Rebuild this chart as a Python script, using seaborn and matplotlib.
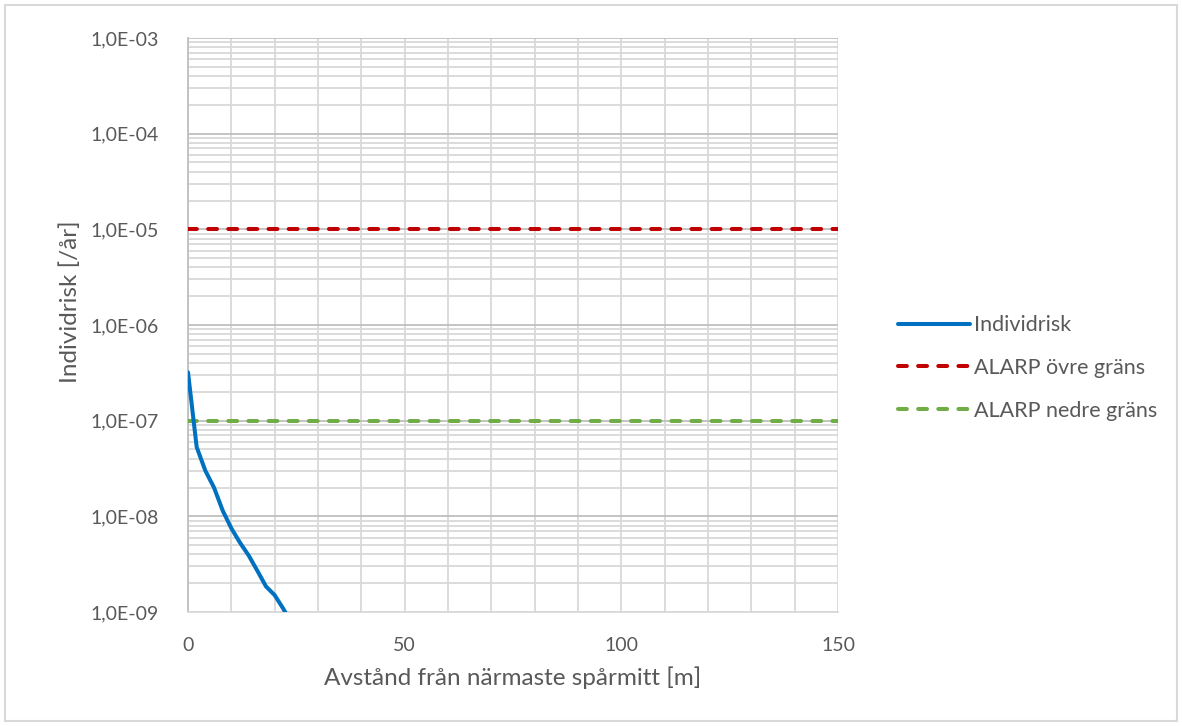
import matplotlib
matplotlib.use("Agg")
import matplotlib.pyplot as plt
import matplotlib.ticker as mticker
from matplotlib.patches import Rectangle
import numpy as np
import pandas as pd
import seaborn as sns

# Individual risk versus distance from the nearest track centre
distance_m = [0, 2, 4, 6, 8, 10, 12, 14, 16, 18, 20, 22, 24]
individrisk = [3.2e-7, 5.3e-8, 3.0e-8, 2.0e-8, 1.15e-8, 7.5e-9, 5.3e-9,
               3.9e-9, 2.7e-9, 1.85e-9, 1.5e-9, 1.08e-9, 7.5e-10]

# ALARP limits, drawn across the full distance range
alarp_x = [0, 150]
alarp_upper = [1e-5, 1e-5]
alarp_lower = [1e-7, 1e-7]

y_ticks = [1e-9, 1e-8, 1e-7, 1e-6, 1e-5, 1e-4, 1e-3]
x_ticks = [0, 50, 100, 150]

sns.set_theme(style="white")
plt.rcParams["font.family"] = ["Lato", "DejaVu Sans"]

text_col = "#595959"
fig = plt.figure(figsize=(11.82, 7.26), dpi=100)
ax = fig.add_axes([188 / 1182, 1 - 612 / 726, 650 / 1182, 574 / 726])

df_risk = pd.DataFrame({"x": distance_m, "y": individrisk})
df_up = pd.DataFrame({"x": alarp_x, "y": alarp_upper})
df_lo = pd.DataFrame({"x": alarp_x, "y": alarp_lower})

lw = 2.9
sns.lineplot(data=df_risk, x="x", y="y", ax=ax, color="#0070C0", lw=lw,
             label="Individrisk", solid_capstyle="round", zorder=4)
sns.lineplot(data=df_up, x="x", y="y", ax=ax, color="#C00000", lw=lw,
             label="ALARP övre gräns", zorder=3)
sns.lineplot(data=df_lo, x="x", y="y", ax=ax, color="#70AD47", lw=lw,
             label="ALARP nedre gräns", zorder=3)
for ln in ax.get_lines()[1:3]:
    ln.set_dashes((2.2, 2.8))
    ln.set_dash_capstyle("round")

ax.set_yscale("log")
ax.set_ylim(1e-9, 1e-3)
ax.set_xlim(0, 150)
ax.set_yticks(y_ticks)
ax.yaxis.set_major_formatter(mticker.FuncFormatter(
    lambda v, p: ("%.1E" % v).replace(".", ",")))
ax.yaxis.set_minor_locator(mticker.LogLocator(base=10, subs=np.arange(2, 10)))
ax.yaxis.set_minor_formatter(mticker.NullFormatter())
ax.set_xticks(x_ticks)
ax.xaxis.set_minor_locator(mticker.MultipleLocator(10))

ax.grid(True, which="major", axis="y", color="#BFBFBF", lw=1.3, zorder=0)
ax.grid(True, which="minor", axis="y", color="#D9D9D9", lw=1.3, zorder=0)
ax.grid(True, which="both", axis="x", color="#D9D9D9", lw=1.3, zorder=0)
ax.set_axisbelow(True)

for side in ["top", "right"]:
    ax.spines[side].set_visible(False)
ax.spines["left"].set_color("#BFBFBF")
ax.spines["left"].set_linewidth(1.3)
ax.spines["bottom"].set_color("#D9D9D9")
ax.spines["bottom"].set_linewidth(1.3)

ax.tick_params(axis="both", which="both", length=0, labelsize=14,
               labelcolor=text_col)
ax.tick_params(axis="y", pad=21)
ax.tick_params(axis="x", pad=18)

ax.set_xlabel("Avstånd från närmaste spårmitt [m]", fontsize=17.5,
              color=text_col, labelpad=9)
ax.set_ylabel("Individrisk [/år]", fontsize=17.5, color=text_col)
ax.yaxis.set_label_coords(-0.165, 0.54)

leg = ax.legend(loc="center left", bbox_to_anchor=(879 / 1182, 1 - 368 / 726),
                bbox_transform=fig.transFigure, frameon=False, fontsize=15.5,
                handlelength=3.35, handletextpad=0.15, labelspacing=1.05)
for t in leg.get_texts():
    t.set_color(text_col)
for h in leg.get_lines()[1:]:
    h.set_dashes((2.2, 2.8))
    h.set_dash_capstyle("round")

# Outer chart border
fig.patches.append(Rectangle((5 / 1182, 5 / 726), 1172 / 1182, 716 / 726,
                             transform=fig.transFigure, fill=False,
                             edgecolor="#D9D9D9", lw=1.5))

fig.savefig("out.png", dpi=100)
